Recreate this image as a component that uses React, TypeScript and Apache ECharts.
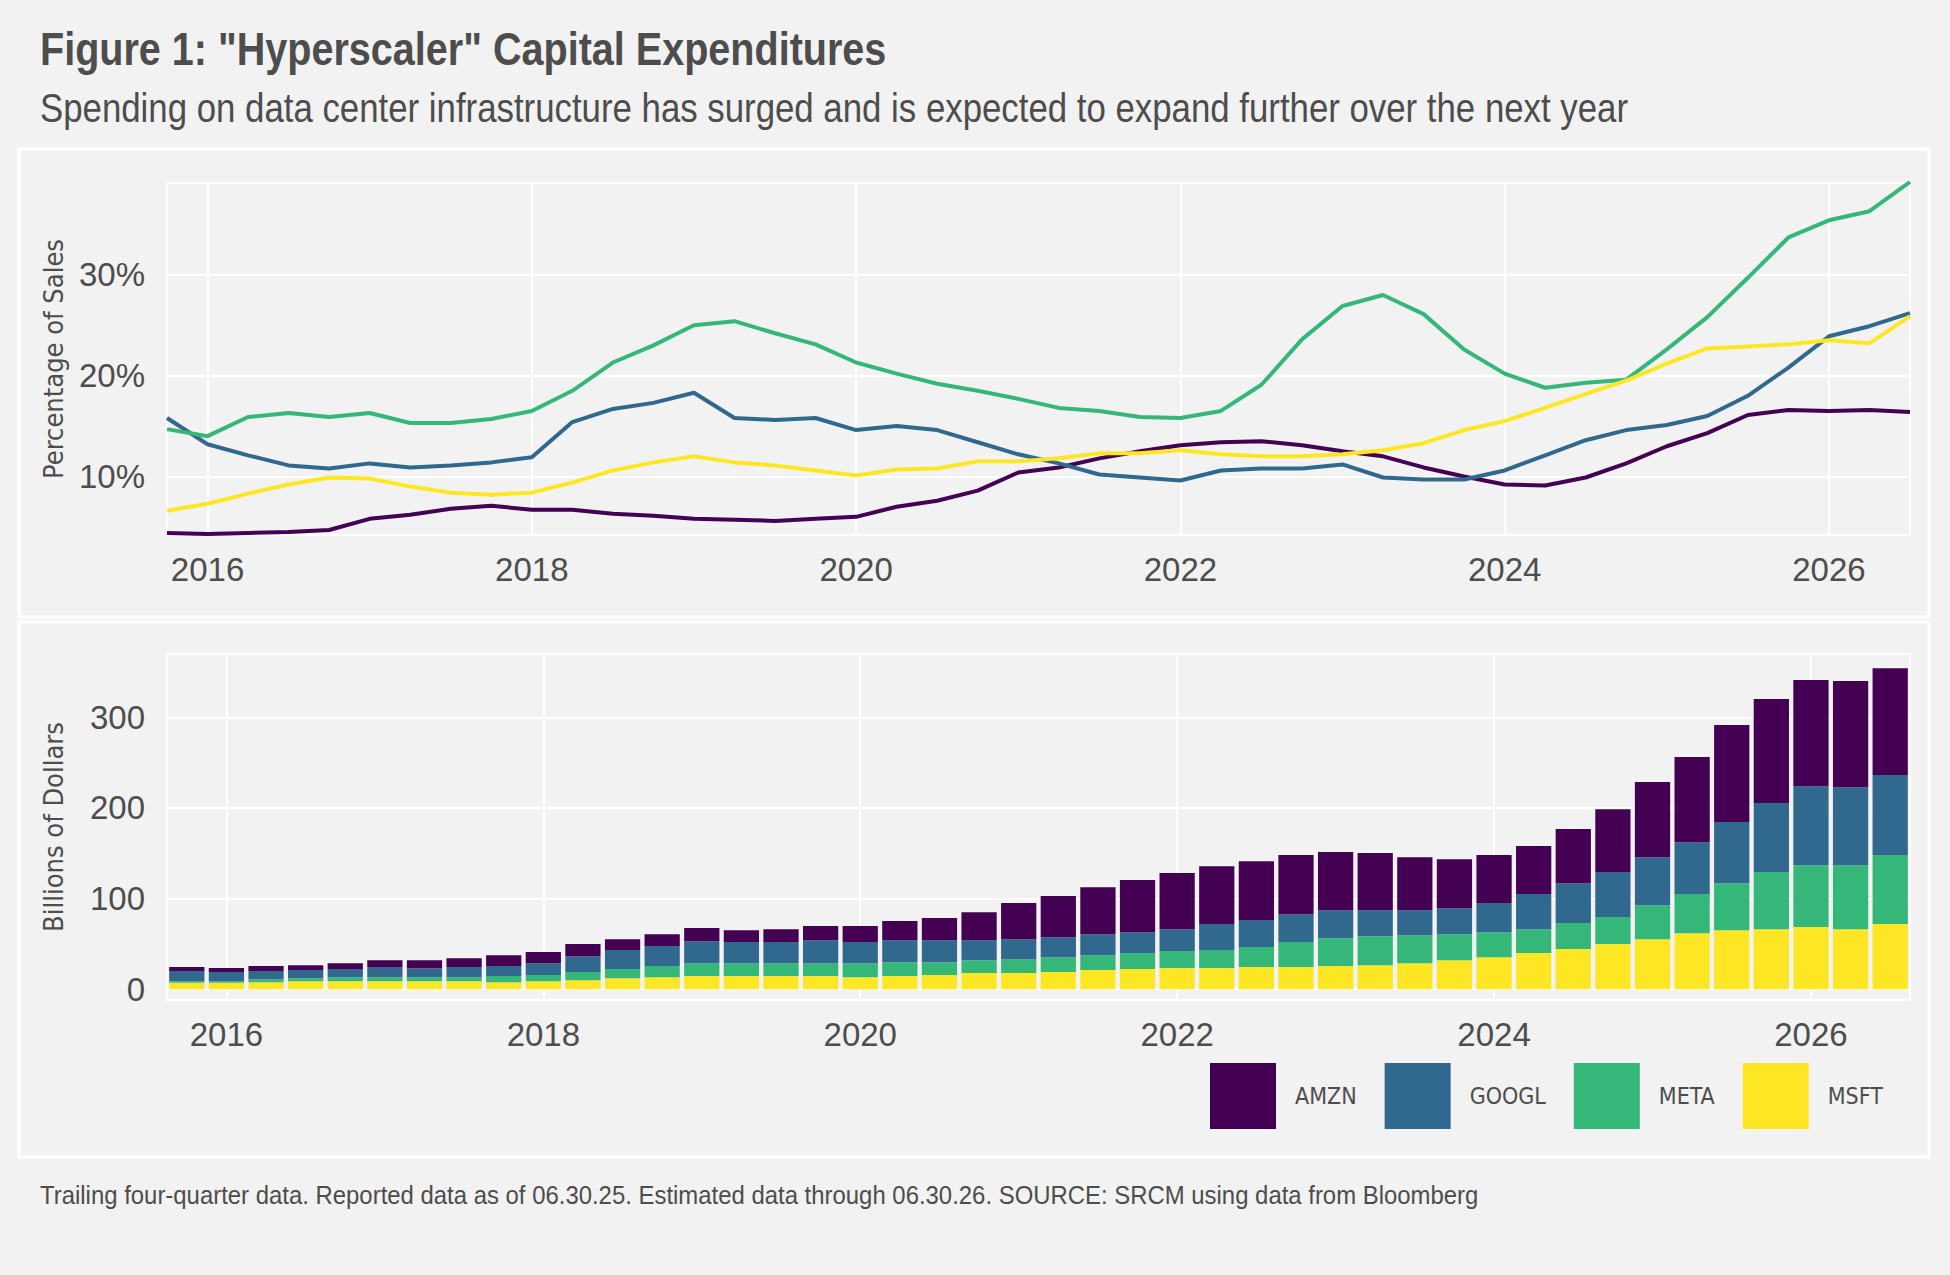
import { useEffect, useRef } from 'react';
import * as echarts from 'echarts';

const quarters = [
  '2015Q4', '2016Q1', '2016Q2', '2016Q3', '2016Q4', '2017Q1', '2017Q2', '2017Q3', '2017Q4',
  '2018Q1', '2018Q2', '2018Q3', '2018Q4', '2019Q1', '2019Q2', '2019Q3', '2019Q4',
  '2020Q1', '2020Q2', '2020Q3', '2020Q4', '2021Q1', '2021Q2', '2021Q3', '2021Q4',
  '2022Q1', '2022Q2', '2022Q3', '2022Q4', '2023Q1', '2023Q2', '2023Q3', '2023Q4',
  '2024Q1', '2024Q2', '2024Q3', '2024Q4', '2025Q1', '2025Q2', '2025Q3', '2025Q4',
  '2026Q1', '2026Q2', '2026Q3',
];

// capex as % of sales
const amznPct = [4.4, 4.3, 4.4, 4.5, 4.7, 5.8, 6.2, 6.8, 7.1, 6.7, 6.7, 6.3, 6.1, 5.8, 5.7, 5.6, 5.8, 6.0, 7.0, 7.6, 8.6,
  10.4, 10.9, 11.8, 12.5, 13.1, 13.4, 13.5, 13.1, 12.5, 12.0, 10.9, 10.0, 9.2, 9.1, 9.9, 11.3, 13.0, 14.3, 16.1, 16.6, 16.5, 16.6, 16.4];
const googlPct = [15.8, 13.2, 12.1, 11.1, 10.8, 11.3, 10.9, 11.1, 11.4, 11.9, 15.4, 16.7, 17.3, 18.3, 15.8, 15.6, 15.8, 14.6, 15.0, 14.6, 13.4,
  12.2, 11.3, 10.2, 9.9, 9.6, 10.6, 10.8, 10.8, 11.2, 9.9, 9.7, 9.7, 10.6, 12.1, 13.6, 14.6, 15.1, 16.0, 18.0, 20.8, 23.9, 24.9, 26.2];
const metaPct = [14.7, 14.0, 15.9, 16.3, 15.9, 16.3, 15.3, 15.3, 15.7, 16.5, 18.5, 21.3, 23.0, 25.0, 25.4, 24.2, 23.1, 21.3, 20.2, 19.2, 18.5,
  17.7, 16.8, 16.5, 15.9, 15.8, 16.5, 19.1, 23.6, 26.9, 28.0, 26.1, 22.6, 20.2, 18.8, 19.3, 19.6, 22.6, 25.8, 29.7, 33.7, 35.4, 36.3, 39.2];
const msftPct = [6.6, 7.3, 8.3, 9.2, 9.9, 9.8, 9.0, 8.4, 8.2, 8.4, 9.4, 10.6, 11.4, 12.0, 11.4, 11.1, 10.6, 10.1, 10.7, 10.8, 11.5,
  11.5, 11.8, 12.3, 12.3, 12.6, 12.2, 12.0, 12.0, 12.2, 12.6, 13.3, 14.6, 15.5, 16.8, 18.2, 19.5, 21.2, 22.7, 22.9, 23.1, 23.5, 23.2, 25.9];

// capex, billions of dollars
const amznBn = [4.4, 4.4, 5.5, 5.5, 6.6, 7.7, 8.8, 9.9, 12.1, 12.2, 13.3, 12.1, 13.2, 14.4, 13.2, 14.3, 15.5, 17.7, 21.0, 24.3, 30.9,
  39.8, 45.3, 51.9, 57.5, 61.9, 64.0, 65.1, 65.2, 64.1, 63.0, 58.5, 54.1, 53.0, 53.0, 59.7, 69.5, 82.9, 93.9, 107.1, 114.8, 117.1, 117.1, 118.1];
const googlBn = [11.1, 10.1, 8.9, 8.9, 8.9, 11.1, 9.9, 11.1, 11.0, 13.2, 17.6, 21.0, 22.1, 24.3, 23.2, 23.2, 25.4, 23.2, 24.3, 24.3, 22.1,
  22.1, 22.1, 23.2, 23.1, 24.2, 28.7, 29.8, 30.9, 30.9, 28.7, 27.6, 28.7, 32.1, 38.7, 44.1, 49.7, 53.0, 57.4, 67.4, 76.2, 87.2, 86.1, 88.3];
const metaBn = [1.8, 1.8, 3.3, 3.3, 4.4, 4.4, 4.4, 4.4, 6.7, 6.7, 8.9, 10.0, 12.2, 14.3, 14.3, 14.3, 14.3, 15.5, 15.4, 14.3, 14.3,
  15.4, 16.5, 16.5, 17.7, 18.8, 19.9, 22.1, 27.6, 30.9, 32.0, 30.9, 28.7, 27.6, 26.4, 28.7, 29.8, 37.5, 43.1, 51.9, 63.0, 68.4, 70.7, 76.2];
const msftBn = [7.0, 7.0, 7.7, 8.8, 8.8, 8.8, 8.8, 8.8, 7.7, 8.8, 9.9, 12.1, 13.2, 14.4, 14.4, 14.4, 14.4, 13.2, 14.4, 15.5, 17.7,
  17.7, 18.8, 21.0, 22.1, 23.2, 23.2, 24.3, 24.3, 25.4, 26.5, 28.7, 32.0, 35.3, 39.8, 44.2, 49.7, 55.2, 61.8, 65.1, 66.2, 68.5, 66.2, 71.8];

const yearTicks = [1, 9, 17, 25, 33, 41];
const pctTicks = [10, 20, 30];
const bnTicks = [0, 100, 200, 300];

const tickers = ['AMZN', 'GOOGL', 'META', 'MSFT'];
const colors = ['#440154', '#31688E', '#35B779', '#FDE725'];

const FONT = '"Liberation Sans", sans-serif';
const COND = '"DejaVu Sans Condensed", "DejaVu Sans", sans-serif';
const GREY = '#4d4d4d';

export default function App() {
  const chartRef = useRef<HTMLDivElement>(null);

  useEffect(() => {
    document.body.style.margin = '0';
    document.body.style.background = '#f2f2f2';
    if (!chartRef.current) return;
    const chart = echarts.init(chartRef.current, null, { renderer: 'svg' });

    const yearAxis = (gridIndex: number, min: number, max: number) => ({
      type: 'value',
      gridIndex,
      min,
      max,
      axisLine: { show: false },
      axisTick: { show: false, customValues: yearTicks },
      axisLabel: {
        customValues: yearTicks,
        formatter: (v: number) => quarters[v].slice(0, 4),
        color: GREY,
        fontFamily: FONT,
        fontSize: 33,
        margin: 18,
      },
      splitLine: { show: true, lineStyle: { color: '#ffffff', width: 2 } },
    });

    const yAxisBase = (gridIndex: number, min: number, max: number, ticks: number[], name: string, fmt: (v: number) => string) => ({
      type: 'value',
      gridIndex,
      min,
      max,
      name,
      nameLocation: 'middle',
      nameGap: 100,
      nameTextStyle: { color: GREY, fontFamily: COND, fontSize: 27 },
      axisLine: { show: false },
      axisTick: { show: false, customValues: ticks },
      axisLabel: { customValues: ticks, formatter: fmt, color: GREY, fontFamily: FONT, fontSize: 33, margin: 22 },
      splitLine: { show: true, lineStyle: { color: '#ffffff', width: 2 } },
    });

    const pctData = [amznPct, googlPct, metaPct, msftPct];
    const bnData = [amznBn, googlBn, metaBn, msftBn];

    const lineSeries = tickers.map((t, i) => ({
      name: t,
      type: 'line',
      xAxisIndex: 0,
      yAxisIndex: 0,
      data: pctData[i].map((v, k) => [k, v]),
      showSymbol: false,
      lineStyle: { color: colors[i], width: 4 },
      itemStyle: { color: colors[i] },
      z: 3 + i,
    }));

    // stack bottom-up: MSFT, META, GOOGL, AMZN (on a hidden category axis)
    const barSeries = [3, 2, 1, 0].map((i) => ({
      name: tickers[i],
      type: 'bar',
      stack: 'capex',
      xAxisIndex: 2,
      yAxisIndex: 1,
      barCategoryGap: '11%',
      data: bnData[i],
      itemStyle: { color: colors[i] },
      z: 3,
    }));

    chart.setOption({
      animation: false,
      backgroundColor: '#f2f2f2',
      textStyle: { fontFamily: FONT },
      grid: [
        { left: 167, right: 40, top: 183, height: 352, show: true, borderColor: '#ffffff', borderWidth: 2, backgroundColor: 'transparent' },
        { left: 167, right: 40, top: 654, height: 346, show: true, borderColor: '#ffffff', borderWidth: 2, backgroundColor: 'transparent' },
      ],
      xAxis: [
        yearAxis(0, 0, 43),
        yearAxis(1, -0.5, 43.5),
        { type: 'category', gridIndex: 1, data: quarters, show: false, boundaryGap: true },
      ],
      yAxis: [
        yAxisBase(0, 4.2, 39.1, pctTicks, 'Percentage of Sales', (v) => `${v}%`),
        yAxisBase(1, -12, 370, bnTicks, 'Billions of Dollars', (v) => `${v}`),
      ],
      legend: {
        data: tickers,
        left: 1205,
        top: 1058,
        itemWidth: 66,
        itemHeight: 66,
        itemGap: 28,
        icon: 'rect',
        selectedMode: false,
        textStyle: { color: GREY, fontFamily: COND, fontSize: 23, padding: [0, 0, 0, 14] },
      },
      graphic: [
        { type: 'rect', shape: { x: 19, y: 149, width: 1910, height: 468 }, style: { fill: 'none', stroke: '#ffffff', lineWidth: 3 } },
        { type: 'rect', shape: { x: 19, y: 622, width: 1910, height: 535 }, style: { fill: 'none', stroke: '#ffffff', lineWidth: 3 } },
        {
          type: 'text', x: 40, y: 26, scaleX: 0.86,
          style: { text: 'Figure 1: "Hyperscaler" Capital Expenditures', fill: GREY, font: `bold 46px ${FONT}` },
        },
        {
          type: 'text', x: 40, y: 88, scaleX: 0.87,
          style: { text: 'Spending on data center infrastructure has surged and is expected to expand further over the next year', fill: GREY, font: `40px ${FONT}` },
        },
        {
          type: 'text', x: 40, y: 1182, scaleX: 0.92,
          style: { text: 'Trailing four-quarter data. Reported data as of 06.30.25. Estimated data through 06.30.26. SOURCE: SRCM using data from Bloomberg', fill: GREY, font: `26px ${FONT}` },
        },
      ],
      series: [...lineSeries, ...barSeries],
    });

    return () => chart.dispose();
  }, []);

  return <div ref={chartRef} style={{ width: 1950, height: 1275 }} />;
}
